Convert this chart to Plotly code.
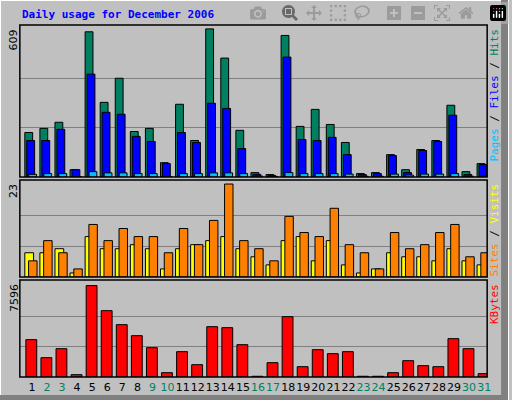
import plotly.graph_objects as go

days = list(range(1, 32))
hits = [183,200,225,30,597,307,406,187,200,59,299,150,609,489,192,18,10,582,208,278,216,142,14,18,92,30,113,150,295,22,55]
files = [150,150,196,30,423,266,258,167,146,55,183,142,303,282,117,11,6,493,154,150,163,92,10,14,88,18,109,146,254,10,51]
pages = [11,14,14,2,22,17,17,14,14,1,14,14,17,17,14,4,2,18,14,14,14,12,3,3,12,8,12,12,14,3,3]
visits = [6,6,7,1,10,7,7,8,7,2,7,8,9,10,7,5,3,9,10,4,9,3,1,2,6,5,5,4,7,4,3]
sites = [4,9,6,2,13,9,12,10,10,6,12,8,14,23,9,7,4,15,11,10,17,8,6,2,11,7,8,11,13,5,6]
kbytes = [3105,1607,2355,194,7596,5513,4350,3435,2438,360,2105,1025,4183,4100,2687,60,1191,5014,859,2271,1939,2105,60,60,360,1357,942,859,3186,2355,277]
weekend = {2,3,9,10,16,17,23,24,30,31}

fig = go.Figure()
line = dict(color="black", width=1)
def bar(y, color, offset, width, ax):
    fig.add_trace(go.Bar(x=days, y=y, marker=dict(color=color, line=line),
                         offset=offset, width=width, xaxis="x", yaxis=ax,
                         hoverinfo="y", showlegend=False))

bar(hits, "#008060", -0.47, 0.52, "y")
bar(files, "#0000FF", -0.34, 0.52, "y")
bar(pages, "#00C0FF", -0.21, 0.52, "y")
bar(visits, "#FFFF00", -0.47, 0.58, "y2")
bar(sites, "#FF8000", -0.22, 0.56, "y2")
bar(kbytes, "#FF0000", -0.40, 0.72, "y3")

mono = "DejaVu Sans Mono"
ymax = [609, 23, 7596]
doms = [[0.5575, 0.9375], [0.3075, 0.55], [0.0575, 0.30]]
ranges = [625, 24, 8060]
common = dict(showline=False, zeroline=False, showticklabels=False, ticks="",
              gridcolor="#808080", gridwidth=1, fixedrange=True)
layout = dict(
    width=512, height=400, margin=dict(l=0, r=0, t=0, b=0),
    paper_bgcolor="#C0C0C0", plot_bgcolor="#C0C0C0", barmode="overlay",
    xaxis=dict(domain=[20/512, 491/512], range=[0.2, 31.2], anchor="y3",
               showgrid=False, zeroline=False, showline=False, ticks="",
               tickvals=days, tickangle=0,
               ticktext=[f'<span style="color:{"#008060" if d in weekend else "black"}">{d}</span>' for d in days],
               tickfont=dict(family="DejaVu Sans", size=11), ticklabelstandoff=2),
)
names = ["yaxis", "yaxis2", "yaxis3"]
for i, n in enumerate(names):
    layout[n] = dict(domain=doms[i], range=[0, ranges[i]],
                     tickvals=[ymax[i]/3, 2*ymax[i]/3], anchor="x", **common)
fig.update_layout(**layout)

shapes = []
for d in doms:
    shapes.append(dict(type="rect", xref="paper", yref="paper", x0=20/512, x1=491/512,
                       y0=d[0], y1=d[1], line=dict(color="black", width=1.5)))
# bevel
shapes.append(dict(type="rect", xref="paper", yref="paper", x0=0, x1=1, y0=0, y1=1,
                   line=dict(color="white", width=2), layer="below"))
shapes.append(dict(type="rect", xref="paper", yref="paper", x0=505/512, x1=1, y0=0, y1=1,
                   fillcolor="#808080", line=dict(width=0), layer="below"))
shapes.append(dict(type="rect", xref="paper", yref="paper", x0=0, x1=1, y0=0, y1=5/400,
                   fillcolor="#808080", line=dict(width=0), layer="below"))
fig.update_layout(shapes=shapes)

ann = [dict(text="<b>Daily usage for December 2006</b>", x=20/512, y=1-14/400, xref="paper",
            yref="paper", xanchor="left", yanchor="middle", showarrow=False,
            font=dict(family=mono, size=11, color="#0000FF"))]
for i, d in enumerate(doms):
    ann.append(dict(text=str(ymax[i]), x=14/512, y=d[1]-0.005, xref="paper", yref="paper",
                    textangle=-90, xanchor="center", yanchor="top", showarrow=False,
                    font=dict(family="DejaVu Sans", size=11, color="black")))
rlabels = [
    '<span style="color:#00C0FF">Pages</span> / <span style="color:#0000FF">Files</span> / <span style="color:#008060">Hits</span>',
    '<span style="color:#FF8000">Sites</span> / <span style="color:#FFFF00">Visits</span>',
    '<span style="color:#FF0000">KBytes</span>',
]
for i, d in enumerate(doms):
    ann.append(dict(text=rlabels[i], x=498/512, y=d[1]-0.005, xref="paper", yref="paper",
                    textangle=-90, xanchor="center", yanchor="top", showarrow=False,
                    font=dict(family=mono, size=11, color="black")))
fig.update_layout(annotations=ann)
fig.write_html("out.html", post_script="document.body.style.margin='0';")
